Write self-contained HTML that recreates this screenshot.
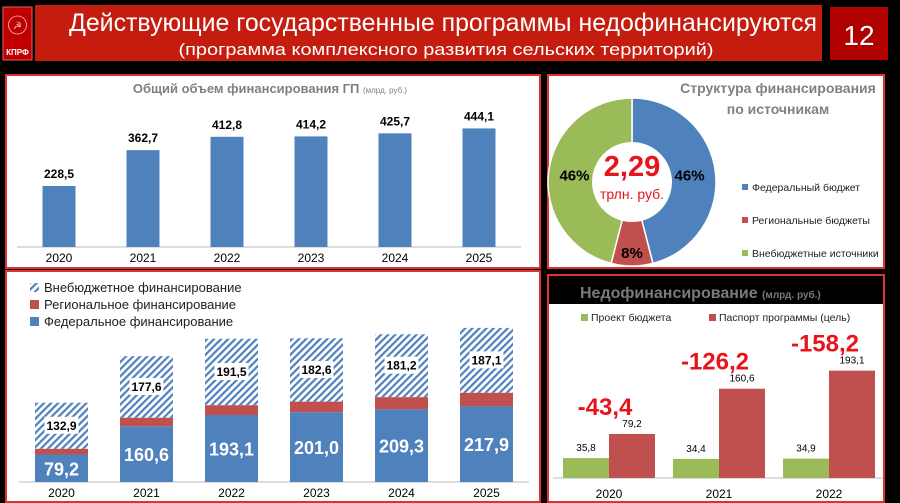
<!DOCTYPE html>
<html><head><meta charset="utf-8"><style>
html,body{margin:0;padding:0;background:#000;}
svg{display:block;font-family:"Liberation Sans",sans-serif;}
</style></head><body>
<svg id="s" width="900" height="503" viewBox="0 0 900 503">
<defs>
<pattern id="hatch" patternUnits="userSpaceOnUse" width="5" height="5" patternTransform="rotate(45)">
<rect width="5" height="5" fill="#fff"/><rect width="2.2" height="5" fill="#4f81bd"/>
</pattern>
</defs>
<rect x="0" y="0" width="900" height="503" fill="#000"/>
<g>
<rect x="3" y="7" width="29" height="53" fill="#c00000" stroke="#e06060" stroke-width="1"/>
<circle cx="17.5" cy="25" r="9" fill="none" stroke="#f0c0c0" stroke-width="0.8"/>
<text x="17.5" y="29" font-size="10" fill="#f0c0c0" text-anchor="middle">☭</text>
<text x="17.5" y="55" font-size="8" font-weight="bold" fill="#fff" text-anchor="middle">КПРФ</text>
<rect x="35" y="5" width="787" height="56" fill="#c41d0f"/>
<text x="443" y="31" font-size="25" fill="#fff" text-anchor="middle" textLength="748" lengthAdjust="spacingAndGlyphs">Действующие государственные программы недофинансируются</text>
<text x="446" y="55" font-size="17" fill="#fff" text-anchor="middle" textLength="535" lengthAdjust="spacingAndGlyphs">(программа комплексного развития сельских территорий)</text>
<rect x="830" y="7" width="58" height="53" fill="#b00000"/>
<text x="859" y="45" font-size="28" fill="#fff" text-anchor="middle">12</text>
</g>
<rect x="6" y="75" width="534" height="193" fill="#fff" stroke="#e03030" stroke-width="2"/>
<rect x="6" y="271" width="534" height="231" fill="#fff" stroke="#e03030" stroke-width="2"/>
<rect x="548" y="75" width="336" height="193" fill="#fff" stroke="#e03030" stroke-width="2"/>
<rect x="548" y="275" width="336" height="227" fill="#fff" stroke="#e03030" stroke-width="2"/>
<rect x="549" y="276" width="334" height="28" fill="#000"/>
<text x="270" y="93" font-size="13" font-weight="bold" fill="#808080" text-anchor="middle">Общий объем финансирования ГП <tspan font-size="8" font-weight="normal">(млрд. руб.)</tspan></text>
<text x="778" y="93" font-size="14" font-weight="bold" fill="#808080" text-anchor="middle">Структура финансирования</text>
<text x="778" y="114" font-size="14" font-weight="bold" fill="#808080" text-anchor="middle">по источникам</text>
<text x="580" y="298" font-size="16" font-weight="bold" fill="#7a7a7a">Недофинансирование <tspan font-size="10">(млрд. руб.)</tspan></text>
<g id="g1"></g><g id="g2"></g><g id="g3"></g><g id="g4"></g>
</svg>
<script>
const years = ["2020","2021","2022","2023","2024","2025"];
const totals = [228.5,362.7,412.8,414.2,425.7,444.1];
const federal = [79.2,160.6,193.1,201.0,209.3,217.9];
const extra = [132.9,177.6,191.5,182.6,181.2,187.1];
const pieLabels = ["Федеральный бюджет","Региональные бюджеты","Внебюджетные источники"];
const pieShares = [46,8,46];
const gapYears = ["2020","2021","2022"];
const budgetVals = [35.8,34.4,34.9];
const passportVals = [79.2,160.6,193.1];

const NS="http://www.w3.org/2000/svg";
function mk(parent,tag,attrs,text){const e=document.createElementNS(NS,tag);for(const k in attrs)e.setAttribute(k,attrs[k]);if(text!==undefined)e.textContent=text;parent.appendChild(e);return e;}
const fmt=v=>v.toFixed(1).replace('.',',');

// Chart 1
(function(){
const g=document.getElementById('g1');
const x0=17,step=84,base=247,k=0.267;
const xc=i=>x0+step*(i+0.5), y=v=>base-v*k;
let ax=mk(g,'line',{x1:x0,y1:base,x2:x0+step*6,y2:base,stroke:'#bbb'});


years.forEach((yr,i)=>{
 let b=mk(g,'rect',{x:xc(i)-16.5,y:y(totals[i]),width:33,height:totals[i]*k,fill:'#4f81bd'});
 
 
 let t=mk(g,'text',{x:xc(i),y:y(totals[i])-8,'font-size':12,'font-weight':'bold','text-anchor':'middle',fill:'#000'},fmt(totals[i]));
 
 
 let l=mk(g,'text',{x:xc(i),y:262,'font-size':12,'text-anchor':'middle',fill:'#000'},yr);
 
 
});
})();

// Chart 2 stacked
(function(){
const g=document.getElementById('g2');
const x0=19,step=85,base=482,k=0.347,w=53;
const xc=i=>x0+step*(i+0.5);
let ax=mk(g,'line',{x1:x0,y1:base,x2:x0+step*6,y2:base,stroke:'#bbb'});


const leg=[["url(#hatch)","Внебюджетное финансирование"],["#c0504d","Региональное финансирование"],["#4f81bd","Федеральное финансирование"]];
leg.forEach((l,i)=>{
 let r=mk(g,'rect',{x:30,y:283+i*17,width:9,height:9,fill:l[0]});
 
 
 let t=mk(g,'text',{x:44,y:292+i*17,'font-size':13,fill:'#222'},l[1]);
 
 
});
years.forEach((yr,i)=>{
 const reg=totals[i]-federal[i]-extra[i];
 const yF=base-federal[i]*k, yR=yF-reg*k, yE=yR-extra[i]*k;
 let e=mk(g,'rect',{x:xc(i)-w/2,y:yE,width:w,height:extra[i]*k,fill:'url(#hatch)'});
 
 
 let r=mk(g,'rect',{x:xc(i)-w/2,y:yR,width:w,height:reg*k,fill:'#c0504d'});
 
 
 let f=mk(g,'rect',{x:xc(i)-w/2,y:yF,width:w,height:federal[i]*k,fill:'#4f81bd'});
 
 
 const ym=(yE+yR)/2;
 mk(g,'rect',{x:xc(i)-17,y:ym-9,width:34,height:17,fill:'#fff'});
 let te=mk(g,'text',{x:xc(i),y:ym+4,'font-size':12,'font-weight':'bold','text-anchor':'middle',fill:'#000'},fmt(extra[i]));
 
 
 let tf=mk(g,'text',{x:xc(i),y:(yF+base)/2+7,'font-size':18,'font-weight':'bold','text-anchor':'middle',fill:'#fff'},fmt(federal[i]));
 
 
 let l=mk(g,'text',{x:xc(i),y:497,'font-size':12,'text-anchor':'middle',fill:'#000'},yr);
 
 
});
})();

// Pie
(function(){
const g=document.getElementById('g3');
const cx=632,cy=182,R=84,cols=['#4f81bd','#c0504d','#9bbb59'];
const tot=pieShares.reduce((a,b)=>a+b,0);
let a=-Math.PI/2;
pieShares.forEach((v,i)=>{
 const a2=a+v/tot*2*Math.PI;
 const p=`M${cx},${cy} L${cx+R*Math.cos(a)},${cy+R*Math.sin(a)} A${R},${R} 0 ${a2-a>Math.PI?1:0} 1 ${cx+R*Math.cos(a2)},${cy+R*Math.sin(a2)} Z`;
 let s=mk(g,'path',{d:p,fill:cols[i],stroke:'#fff','stroke-width':1.5});
 
 
 const am=(a+a2)/2, rr=i==1?70:58;
 let t=mk(g,'text',{x:cx+rr*Math.cos(am),y:cy+rr*Math.sin(am)+6,'font-size':15,'font-weight':'bold','text-anchor':'middle',fill:'#000'},v+'%');
 
 
 let m=mk(g,'rect',{x:742,y:184+i*33,width:6,height:6,fill:cols[i]});
 
 
 let lt=mk(g,'text',{x:752,y:191+i*33,'font-size':10.5,fill:'#222'},pieLabels[i]);
 
 
 a=a2;
});
mk(g,'circle',{cx:cx,cy:cy,r:40,fill:'#fff'});
let c1=mk(g,'text',{x:cx,y:176,'font-size':29,'font-weight':'bold','text-anchor':'middle',fill:'#e8141c'},'2,29');


let c2=mk(g,'text',{x:cx,y:199,'font-size':14,'text-anchor':'middle',fill:'#e8141c'},'трлн. руб.');


})();

// Underfunding
(function(){
const g=document.getElementById('g4');
const x0=553,step=110,base=478,k=0.556,w=46;
const gx=i=>x0+step*i+10;
let ax=mk(g,'line',{x1:x0,y1:base,x2:x0+step*3,y2:base,stroke:'#bbb'});


let m1=mk(g,'rect',{x:581,y:314,width:7,height:7,fill:'#9bbb59'});


let t1=mk(g,'text',{x:591,y:321,'font-size':10.5,fill:'#222'},'Проект бюджета');


let m2=mk(g,'rect',{x:709,y:314,width:7,height:7,fill:'#c0504d'});


let t2=mk(g,'text',{x:719,y:321,'font-size':10.5,fill:'#222'},'Паспорт программы (цель)');


gapYears.forEach((yr,i)=>{
 const xg=gx(i), xr=xg+w;
 const yg=base-budgetVals[i]*k, yr2=base-passportVals[i]*k;
 let b=mk(g,'rect',{x:xg,y:yg,width:w,height:budgetVals[i]*k,fill:'#9bbb59'});
 
 
 let r=mk(g,'rect',{x:xr,y:yr2,width:w,height:passportVals[i]*k,fill:'#c0504d'});
 
 
 let tb=mk(g,'text',{x:xg+w/2,y:yg-7,'font-size':10,'text-anchor':'middle',fill:'#000'},fmt(budgetVals[i]));
 
 
 let tr=mk(g,'text',{x:xr+w/2,y:yr2-7,'font-size':10,'text-anchor':'middle',fill:'#000'},fmt(passportVals[i]));
 
 
 let d=mk(g,'text',{x:xr-4,y:yr2-19,'font-size':24,'font-weight':'bold','text-anchor':'middle',fill:'#e8141c'},fmt(budgetVals[i]-passportVals[i]));
 
 
 let l=mk(g,'text',{x:xr,y:498,'font-size':12,'text-anchor':'middle',fill:'#000'},yr);
 
 
});
})();
</script>
</body></html>
